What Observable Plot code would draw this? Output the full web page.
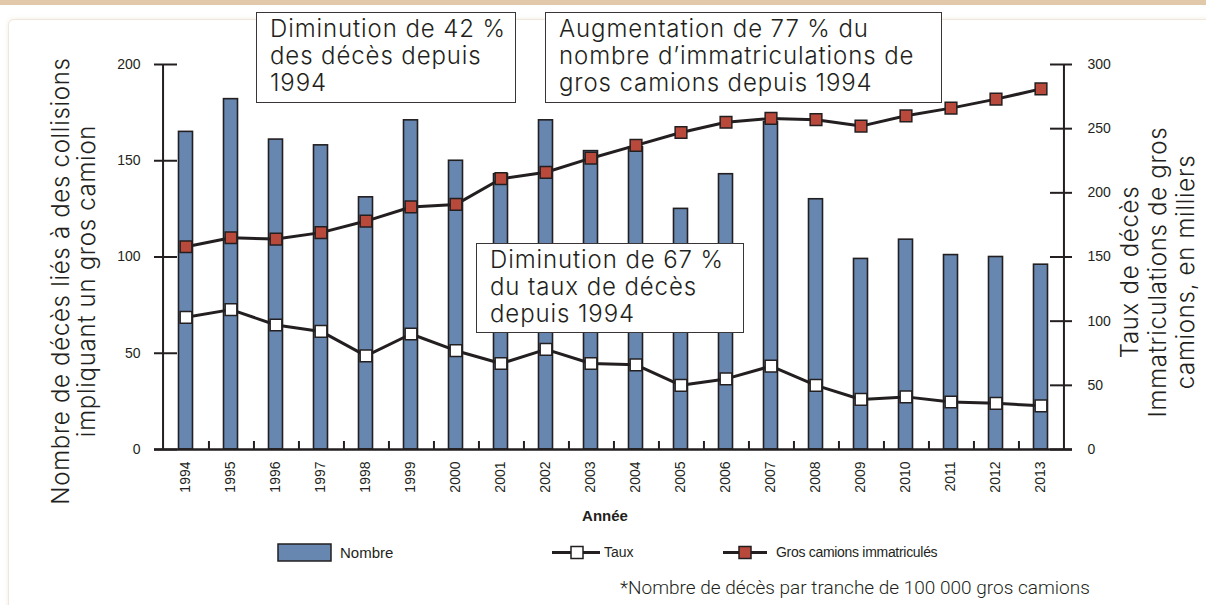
<!DOCTYPE html>
<html>
<head>
<meta charset="utf-8">
<script src="https://cdn.jsdelivr.net/npm/d3@7"></script>
<script src="https://cdn.jsdelivr.net/npm/@observablehq/plot@0.6"></script>
<style>
  body { margin:0; background:#fff; }
  #wrap { position:relative; width:1206px; height:605px; overflow:hidden; background:#fff; font-family:"Liberation Sans", Arial, sans-serif; color:#231f20; }
  .band { position:absolute; left:0; top:0; width:1206px; height:5px; background:#e2c9a9; }
  .panel { position:absolute; left:8px; top:19px; width:1260px; height:700px; border:1px solid #f1e8dd; border-radius:6px; box-shadow:0 0 4px rgba(220,200,170,0.35); background:#fff; }
  #chart { position:absolute; left:0; top:0; }
  .box { position:absolute; background:#fff; border:1.3px solid #3a3536; box-sizing:border-box; padding:2px 0 0 13px; font-family:Inter, "Liberation Sans", sans-serif; font-weight:300; font-size:24px; letter-spacing:0.9px; line-height:27px; color:#231f20; white-space:nowrap; }
  .ytitle { position:absolute; font-family:Inter, "Liberation Sans", sans-serif; font-weight:300; font-size:24px; letter-spacing:0.7px; text-align:center; transform:rotate(-90deg); transform-origin:50% 50%; white-space:nowrap; color:#231f20; }
  .leg { position:absolute; font-size:14px; color:#231f20; white-space:nowrap; }
  .caption { position:absolute; left:620px; top:576px; font-family:Roboto, "Liberation Sans", sans-serif; font-weight:300; font-size:19px; color:#231f20; white-space:nowrap; }
  .xtitle { position:absolute; left:555px; top:507px; width:100px; text-align:center; font-weight:bold; font-size:15px; }
</style>
</head>
<body>
<div id="wrap">
  <div class="band"></div>
  <div class="panel"></div>
  <div id="chart"></div>
</div>
<script>
// ---- data ----
const years = [1994,1995,1996,1997,1998,1999,2000,2001,2002,2003,2004,2005,2006,2007,2008,2009,2010,2011,2012,2013];
const deaths = [165,182,161,158,131,171,150,143,171,155,157,125,143,170,130,99,109,101,100,96];
const rate = [103,109,97,92,73,90,77,67,78,67,66,50,55,65,50,39,41,37,36,34];
const registrations = [158,165,164,169,178,189,191,211,216,227,237,247,255,258,257,252,260,266,273,281];
const leftTicks = [0,50,100,150,200];
const rightTicks = [0,50,100,150,200,250,300];
const leftMax = 200, rightMax = 300;

const data = years.map((y,i) => ({year: y, deaths: deaths[i], rate: rate[i], reg: registrations[i]}));
const toLeft = v => v * leftMax / rightMax;

const W = 1206, H = 605, mL = 154, mR = 134, mT = 64, mB = 156;
const plotW = W - mL - mR, plotH = H - mT - mB;
const bw = plotW / years.length;
const ink = "#231f20", blue = "#6787b0", red = "#b8493b";

const chart = Plot.plot({
  width: W, height: H,
  marginLeft: mL, marginRight: mR, marginTop: mT, marginBottom: mB,
  x: {type: "band", domain: years, padding: 0},
  y: {domain: [0, leftMax]},
  style: {fontFamily: "'Liberation Sans', Arial, sans-serif", fontSize: "14px", color: ink, background: "transparent"},
  marks: [
    Plot.barY(data, {x: "year", y: "deaths", fill: blue, stroke: ink, strokeWidth: 1.6, insetLeft: 15.5, insetRight: 15.5}),
    // inward ticks on left & right axes
    Plot.ruleY(leftTicks, {y: d => d, insetRight: plotW - 23, stroke: ink, strokeWidth: 2}),
    Plot.ruleY(rightTicks.map(toLeft), {y: d => d, insetLeft: plotW - 22, stroke: ink, strokeWidth: 2}),
    // inward ticks between bands on x axis
    Plot.ruleX(years.slice(0, -1), {x: d => d, dx: bw / 2, insetTop: plotH - 8, stroke: ink, strokeWidth: 2}),
    // axis lines
    Plot.ruleX([years[0]], {x: d => d, dx: -bw / 2, stroke: ink, strokeWidth: 2}),
    Plot.ruleX([years[years.length - 1]], {x: d => d, dx: bw / 2, stroke: ink, strokeWidth: 2}),
    Plot.ruleY([0], {stroke: ink, strokeWidth: 2.5}),
    // lines
    Plot.line(data, {x: "year", y: d => toLeft(d.reg), stroke: ink, strokeWidth: 3}),
    Plot.line(data, {x: "year", y: d => toLeft(d.rate), stroke: ink, strokeWidth: 3}),
    Plot.dot(data, {x: "year", y: d => toLeft(d.reg), symbol: "square", r: 6.6, fill: red, stroke: ink, strokeWidth: 1.5}),
    Plot.dot(data, {x: "year", y: d => toLeft(d.rate), symbol: "square", r: 6.6, fill: "#fff", stroke: ink, strokeWidth: 1.5}),
    // axes labels
    Plot.axisY(leftTicks, {anchor: "left", tickSize: 0, tickPadding: 14, label: null, fontSize: 14}),
    Plot.axisY(rightTicks.map(toLeft), {anchor: "right", tickSize: 0, tickPadding: 15, label: null, fontSize: 14, tickFormat: d => String(Math.round(d * rightMax / leftMax))}),
    Plot.axisX({tickRotate: -90, tickSize: 0, tickPadding: 12, label: null, fontSize: 14, tickFormat: d => String(d)})
  ]
});
document.getElementById("chart").appendChild(chart);

const wrap = document.getElementById("wrap");
function add(html) { wrap.insertAdjacentHTML("beforeend", html); }

// annotation boxes
add(`<div class="box" style="left:256px;top:12px;width:260px;height:91px">Diminution de 42 %<br>des décès depuis<br>1994</div>`);
add(`<div class="box" style="left:545px;top:12px;width:397px;height:91px">Augmentation de 77 % du<br>nombre d’immatriculations de<br>gros camions depuis 1994</div>`);
add(`<div class="box" style="left:476px;top:243px;width:268px;height:90px">Diminution de 67 %<br>du taux de décès<br>depuis 1994</div>`);

// axis titles
add(`<div class="ytitle" style="left:-155px;top:254px;width:460px;height:54px;line-height:26px">Nombre de décès liés à des collisions<br>impliquant un gros camion</div>`);
add(`<div class="ytitle" style="left:998px;top:230px;width:320px;height:84px;line-height:28px">Taux de décès<br>Immatriculations de gros<br>camions, en milliers</div>`);
add(`<div class="xtitle">Année</div>`);

// legend
add(`<svg style="position:absolute;left:0;top:530px" width="1206" height="40">
  <rect x="278" y="14" width="53" height="17" fill="${blue}" stroke="${ink}" stroke-width="1.5"/>
  <line x1="552" x2="600" y1="22.5" y2="22.5" stroke="${ink}" stroke-width="3"/>
  <rect x="571" y="16.5" width="12" height="12" fill="#fff" stroke="${ink}" stroke-width="1.5"/>
  <line x1="723" x2="767" y1="22.5" y2="22.5" stroke="${ink}" stroke-width="3"/>
  <rect x="739" y="16.5" width="12" height="12" fill="${red}" stroke="${ink}" stroke-width="1.5"/>
</svg>`);
add(`<div class="leg" style="left:340px;top:544px;font-size:15px">Nombre</div>`);
add(`<div class="leg" style="left:604px;top:544px">Taux</div>`);
add(`<div class="leg" style="left:776px;top:544px;letter-spacing:-0.3px">Gros camions immatriculés</div>`);
add(`<div class="caption">*Nombre de décès par tranche de 100 000 gros camions</div>`);
</script>
</body>
</html>
